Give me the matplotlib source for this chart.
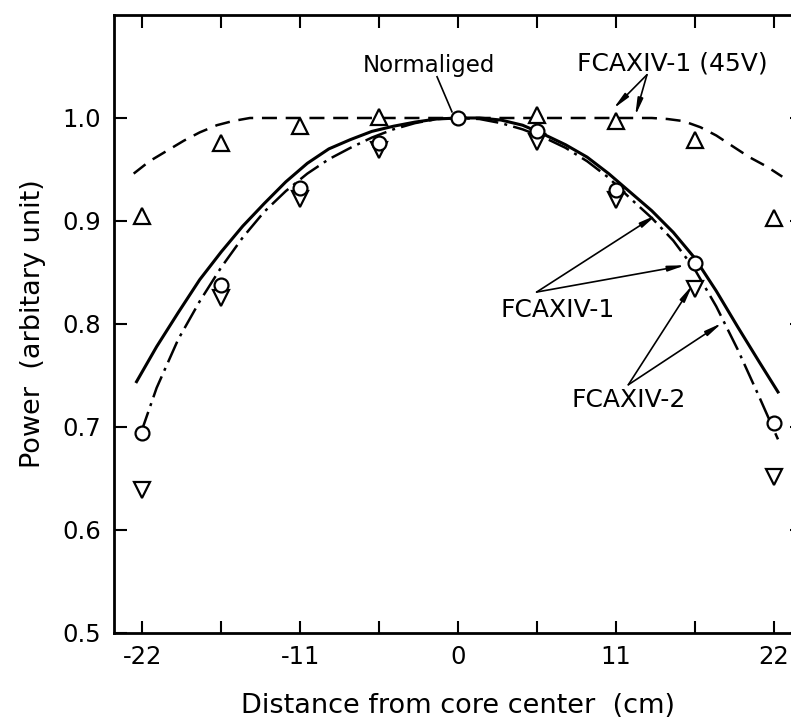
#!/usr/bin/env python3
"""
Radial power distribution: FCAXIV-1, FCAXIV-1(45V) and FCAXIV-2
"""

import matplotlib.pyplot as plt

# measured points (cm from core center)
pos_all = [-22, -16.5, -11, -5.5, 0, 5.5, 11, 16.5, 22]
pos_no_center = [-22, -16.5, -11, -5.5, 5.5, 11, 16.5, 22]

fcaxiv1_exp = [0.694, 0.838, 0.932, 0.976, 1.000, 0.987, 0.930, 0.859, 0.704]
fcaxiv2_exp = [0.639, 0.825, 0.921, 0.969, 0.977, 0.920, 0.834, 0.651]
fcaxiv1_45v_exp = [0.905, 0.976, 0.992, 1.001, 1.003, 0.997, 0.979, 0.903]

# calculated curves
calc1_x = [-22.4, -21, -19.5, -18, -16.5, -15, -13.5, -12, -10.5, -9, -7.5, -6, -4.5, -3, -1.5, 0,
           1.5, 3, 4.5, 6, 7.5, 9, 10.5, 12, 13.5, 15, 16.5, 18, 19.5, 21, 22.3]
calc1_y = [0.744, 0.778, 0.811, 0.843, 0.870, 0.895, 0.917, 0.938, 0.956, 0.970, 0.979, 0.987, 0.992, 0.996, 0.999, 1.000,
           1.000, 0.998, 0.993, 0.984, 0.974, 0.962, 0.946, 0.928, 0.910, 0.889, 0.864, 0.832, 0.797, 0.763, 0.734]

calc2_x = [-22.1, -21, -19.5, -18, -16.5, -15, -13.5, -12, -10.5, -9, -7.5, -6, -4.5, -3, -1.5, 0,
           1.5, 3, 4.5, 6, 7.5, 9, 10.5, 12, 13.5, 15, 16.5, 18, 19.5, 21, 22.3]
calc2_y = [0.694, 0.738, 0.785, 0.822, 0.855, 0.884, 0.909, 0.929, 0.946, 0.960, 0.971, 0.981, 0.989, 0.995, 0.999, 1.000,
           0.999, 0.995, 0.989, 0.981, 0.971, 0.958, 0.942, 0.922, 0.903, 0.881, 0.853, 0.817, 0.775, 0.729, 0.688]

calc45_x = [-22.6, -21.5, -20.3, -19.1, -18, -16.8, -15.7, -14.5, -12, -6, 0, 6, 12.2,
            13.5, 14.6, 15.7, 16.9, 18, 19.2, 20.3, 21.5, 22.6]
calc45_y = [0.946, 0.958, 0.968, 0.978, 0.986, 0.993, 0.997, 1.000, 1.000, 1.000, 1.000, 1.000, 1.000,
            1.000, 0.999, 0.997, 0.991, 0.983, 0.972, 0.962, 0.953, 0.943]

x_major = [-22, -11, 0, 11, 22]
x_minor = [-16.5, -5.5, 5.5, 16.5]
y_ticks = [0.5, 0.6, 0.7, 0.8, 0.9, 1.0]


def arrow(ax, start, tip):
    ax.annotate('', xy=tip, xytext=start,
                arrowprops=dict(arrowstyle='-|>,head_length=1.0,head_width=0.16',
                                color='black', lw=1.2, shrinkA=0, shrinkB=0))


def plot_power_distribution(save: bool = True):
    plt.rcParams['font.family'] = ['DejaVu Sans']
    plt.rcParams['axes.unicode_minus'] = False

    fig = plt.figure(figsize=(7.91, 7.24), dpi=100)
    ax = fig.add_axes([0.1436, 0.1257, 0.8708, 0.8536])

    ax.plot(calc45_x, calc45_y, color='black', lw=1.8, linestyle=(0, (6, 3.5)))
    ax.plot(calc1_x, calc1_y, color='black', lw=2.2, linestyle='-')
    ax.plot(calc2_x, calc2_y, color='black', lw=1.8, linestyle=(0, (9, 2.5, 1.2, 2.5)))

    mk = dict(linestyle='none', color='black', mfc='white', mew=1.6, zorder=5)
    ax.plot(pos_no_center, fcaxiv2_exp, marker='v', ms=11, **mk)
    ax.plot(pos_all, fcaxiv1_exp, marker='o', ms=10, **mk)
    ax.plot(pos_no_center, fcaxiv1_45v_exp, marker='^', ms=11, **mk)

    # labels and pointers
    ax.text(-2.0, 1.051, 'Normaliged', fontsize=16.5, ha='center', va='center')
    ax.plot([-1.46, -0.42], [1.040, 1.006], color='black', lw=1.2)

    ax.text(14.95, 1.053, 'FCAXIV-1 (45V)', fontsize=18, ha='center', va='center')
    arrow(ax, (13.17, 1.042), (10.82, 1.009))
    arrow(ax, (13.17, 1.042), (12.35, 1.002))

    ax.text(6.93, 0.814, 'FCAXIV-1', fontsize=18, ha='center', va='center')
    arrow(ax, (5.48, 0.831), (13.85, 0.906))
    arrow(ax, (5.48, 0.831), (15.85, 0.857))

    ax.text(11.9, 0.726, 'FCAXIV-2', fontsize=18, ha='center', va='center')
    arrow(ax, (11.87, 0.741), (16.35, 0.838))
    arrow(ax, (11.87, 0.741), (18.4, 0.801))

    ax.set_xlim(-24, 24)
    ax.set_ylim(0.5, 1.1)
    ax.set_xticks(x_major)
    ax.set_xticks(x_minor, minor=True)
    ax.set_yticks(y_ticks)
    ax.set_yticklabels([f'{v:.1f}' for v in y_ticks])
    ax.tick_params(which='both', direction='in', length=9, width=1.5,
                   top=True, right=True, labelsize=17.5)
    ax.tick_params(axis='x', pad=9)
    ax.tick_params(axis='y', pad=9)
    for sp in ax.spines.values():
        sp.set_linewidth(2.0)

    ax.set_xlabel('Distance from core center  (cm)', fontsize=19.5, labelpad=17)
    ax.set_ylabel('Power  (arbitary unit)', fontsize=19.5, labelpad=12)

    if save:
        fig.savefig('out.png', dpi=100)
        print("Saved out.png")
    plt.close(fig)


if __name__ == '__main__':
    plot_power_distribution()
